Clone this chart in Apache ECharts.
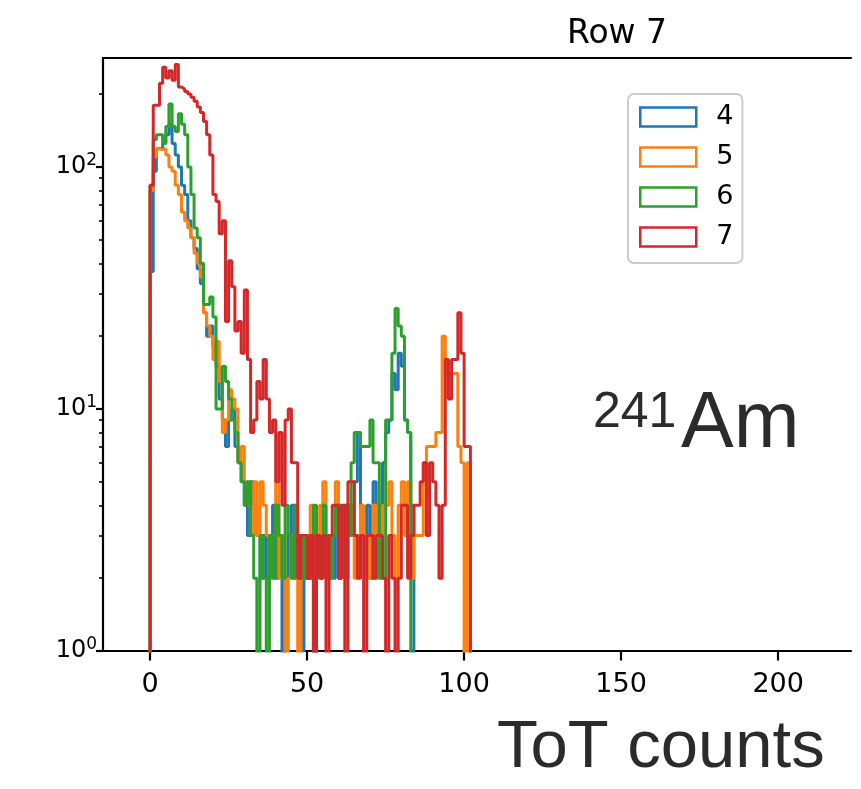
<!DOCTYPE html>
<html><head><meta charset="utf-8">
<script src="https://cdn.jsdelivr.net/npm/echarts@6/dist/echarts.min.js"></script>
<style>html,body{margin:0;padding:0;background:#fff}#c{width:861px;height:789px}</style>
</head><body><div id="c"></div>
<script>
// ---- data (histogram counts per 1-wide ToT bin, starting at 0) ----
const seriesNames = ['4', '5', '6', '7'];
const seriesColors = ['#1f77b4', '#ff7f0e', '#2ca02c', '#d62728'];
const counts4 = [37,96,119,119,125,136,150,125,112,100, 84,77,60,51,46,38,33,25,20,22,
  18,15,11,9,7,9,10,7,6,5, 4,3,5,4,3,2,3,2,3,4, 2,3,0,2,3,4,2,3,1,2,
  3,2,0,3,2,3,2,3,2,3, 4,3,2,4,3,5,8,4,3,4, 2,5,3,4,6,8,9,14,12,17, 15,9,8,4];
const counts5 = [80,110,119,118,119,112,100,96,84,77, 65,60,56,51,44,40,35,25,22,20,
  16,19,13,8,9,12,11,10,6,7, 5,4,3,5,3,5,4,3,2,3, 5,2,3,0,2,3,2,0,2,3,
  2,4,2,3,4,5,3,2,3,5, 2,3,4,3,4,2,3,4,3,2, 3,4,2,3,4,4,5,3,2,4,
  5,3,5,2,3,3,3,6,7,7, 7,8,8,20,14,14,14,14,7,6, 0,6];
const counts6 = [84,130,136,136,125,147,182,147,140,166, 150,136,100,77,56,51,40,27,27,29,
  24,10,10,15,13,11,9,8,6,5, 4,5,3,2,0,3,2,0,3,2, 4,3,2,4,3,2,4,3,2,3,
  2,3,4,3,2,4,3,2,3,4, 2,3,4,3,6,8,8,7,7,7, 9,6,6,2,2,9,9,17,26,22, 20,9,8];
const counts7 = [84,180,180,222,258,233,250,228,265,214, 210,205,200,194,187,177,168,154,136,112,
  77,72,53,60,23,41,32,21,23,17, 31,16,8,9,13,11,16,11,8,9, 5,8,4,9,10,6,6,2,3,3,
  2,3,0,3,2,3,0,3,4,4, 2,4,0,5,5,3,2,3,0,3, 3,2,3,3,2,0,3,2,0,2,
  4,4,2,3,4,4,5,6,3,6, 5,4,2,4,16,11,16,16,25,17, 7,7];
const xTickValues = [0, 50, 100, 150, 200];
const yMajorValues = [1, 10, 100];
const yMinorValues = [2,3,4,5,6,7,8,9,20,30,40,50,60,70,80,90,200];
const allCounts = [counts4, counts5, counts6, counts7];

// step outline of a histogram; empty bins fall below the log axis floor (clipped)
function histPoints(counts) {
  const floor = 0.3;
  const pts = [[0, floor]];
  counts.forEach((c, i) => pts.push([i, c > 0 ? c : floor]));
  pts.push([counts.length, floor]);
  return pts;
}

const FONT = 'DejaVu Sans';
const chart = echarts.init(document.getElementById('c'), null, {renderer: 'canvas'});
const yLabelRich = {
  b: {fontSize: 24, fontFamily: FONT, color: '#000', lineHeight: 26},
  s: {fontSize: 17, fontFamily: FONT, color: '#000', lineHeight: 26, padding: [0, 0, 12, 0]}
};

chart.setOption({
  animation: false,
  backgroundColor: '#fff',
  grid: {left: 103, top: 58, right: 10, bottom: 138, containLabel: false},
  xAxis: [{
    type: 'value', min: -15, max: 223.2, position: 'bottom',
    axisLine: {show: true, onZero: false, lineStyle: {color: '#000', width: 2.2}},
    axisTick: {show: true, customValues: xTickValues, length: 9.5, lineStyle: {color: '#000', width: 2.2}},
    axisLabel: {show: true, customValues: xTickValues, fontSize: 27, fontFamily: FONT, color: '#000', margin: 20},
    splitLine: {show: false}
  }, {
    type: 'value', min: -15, max: 223.2, position: 'top',
    axisLine: {show: true, onZero: false, lineStyle: {color: '#000', width: 2.2}},
    axisTick: {show: false}, axisLabel: {show: false}, splitLine: {show: false}
  }],
  yAxis: [{
    type: 'log', logBase: 10, min: 1, max: 282, position: 'left',
    axisLine: {show: true, onZero: false, lineStyle: {color: '#000', width: 2.2}},
    axisTick: {show: true, customValues: yMajorValues, length: 7, lineStyle: {color: '#000', width: 2.2}},
    axisLabel: {show: true, customValues: yMajorValues, margin: 6,
      formatter: v => '{b|10}{s|' + Math.round(Math.log10(v)) + '}', rich: yLabelRich},
    splitLine: {show: false}
  }, {
    type: 'log', logBase: 10, min: 1, max: 282, position: 'left', offset: 0,
    axisLine: {show: false, onZero: false},
    axisTick: {show: true, customValues: yMinorValues, length: 4, lineStyle: {color: '#000', width: 1.6}},
    axisLabel: {show: false}, splitLine: {show: false}
  }],
  legend: {
    orient: 'vertical', left: 628, top: 94,
    padding: [9, 9, 12, 11], itemGap: 12, itemWidth: 56, itemHeight: 19,
    backgroundColor: 'rgba(255,255,255,0.8)', borderColor: '#cccccc', borderWidth: 2, borderRadius: 6,
    icon: 'rect',
    textStyle: {fontSize: 27, fontFamily: FONT, color: '#000', lineHeight: 28, padding: [0, 0, 0, 15]},
    data: seriesNames.map((n, i) => ({name: n, icon: 'rect',
      itemStyle: {color: 'rgba(0,0,0,0)', borderColor: seriesColors[i], borderWidth: 2.5}}))
  },
  series: seriesNames.map((n, i) => ({
    name: n, type: 'line', step: 'end', symbol: 'none', showSymbol: false,
    xAxisIndex: 0, yAxisIndex: 0, clip: true,
    color: seriesColors[i],
    lineStyle: {color: seriesColors[i], width: 3},
    itemStyle: {color: seriesColors[i]},
    data: histPoints(allCounts[i])
  })),
  graphic: [
    {type: 'text', style: {x: 617, y: 18, text: 'Row 7', textAlign: 'center', textVerticalAlign: 'top',
      font: '33px "DejaVu Sans"', fill: '#000'}},
    {type: 'text', style: {x: 593, y: 388, text: '241', textAlign: 'left', textVerticalAlign: 'top',
      font: '50px "Liberation Sans"', fill: '#2b2b2b'}},
    {type: 'text', style: {x: 681, y: 386, text: 'Am', textAlign: 'left', textVerticalAlign: 'top',
      font: '79px "Liberation Sans"', fill: '#2b2b2b'}},
    {type: 'text', style: {x: 497, y: 715, text: 'ToT counts', textAlign: 'left', textVerticalAlign: 'top',
      font: '67px "Liberation Sans"', fill: '#2b2b2b'}}
  ]
});
</script></body></html>
